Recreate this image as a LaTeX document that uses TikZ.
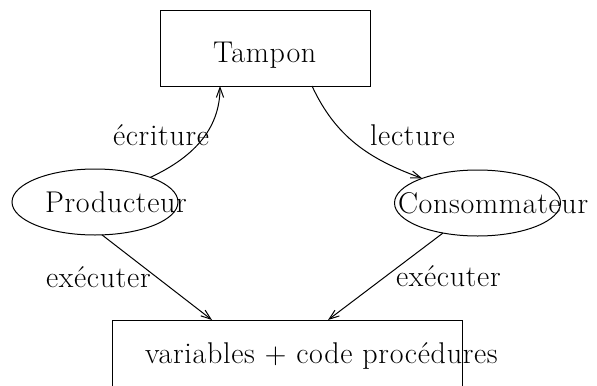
\documentclass[tikz,border=0pt]{standalone}
\usepackage{fontspec}
\setmainfont{Latin Modern Roman}[LetterSpace=2.3]
\usetikzlibrary{arrows.meta,shapes.geometric}
\begin{document}
\begin{tikzpicture}[x=0.5pt,y=0.5pt,
  every node/.style={inner sep=0pt, outer sep=0pt},
  frame/.style={draw, line width=0.5pt, rectangle},
  oval/.style={draw, line width=0.5pt, ellipse, minimum width=83pt, minimum height=33pt},
  lbl/.style={anchor=base west, font=\fontsize{15}{18}\selectfont},
  link/.style={draw, line width=0.5pt, -{Straight Barb[length=5pt,width=3.6pt]}}]
\useasboundingbox (0,0) rectangle (597,-385);
\clip (0,0) rectangle (597,-385);
% boxes and ovals
\node[frame, minimum width=105pt, minimum height=37.5pt] (tampon) at (265,-48.5) {};
\node[oval] (prod) at (95,-202) {};
\node[oval] (cons) at (477.5,-203) {};
\node[frame, minimum width=175pt, minimum height=60pt] (code) at (287,-380) {};
% texts
\node[lbl] (tTampon) at (213,-62) {Tampon};
\node[lbl] (tEcr) at (113,-145) {écriture};
\node[lbl] (tLec) at (370,-145) {lecture};
\node[lbl] (tProd) at (45,-212) {Producteur};
\node[lbl] (tCons) at (398,-213) {Consommateur};
\node[lbl] (tExecL) at (46,-287) {exécuter};
\node[lbl] (tExecR) at (396,-286) {exécuter};
\node[lbl] (tCode) at (145,-363) {variables $+$ code procédures};
% connectors
\draw[link] (prod.24) to[out=25, in=-90] ([xshift=-22.5pt]tampon.south);
\draw[link] ([xshift=23.5pt]tampon.south) to[out=-65, in=160] (cons.156);
\draw[link] (prod.-78) -- ([xshift=-37.5pt]code.north);
\draw[link] (cons.221) -- ([xshift=20.5pt]code.north);
\end{tikzpicture}
\end{document}
